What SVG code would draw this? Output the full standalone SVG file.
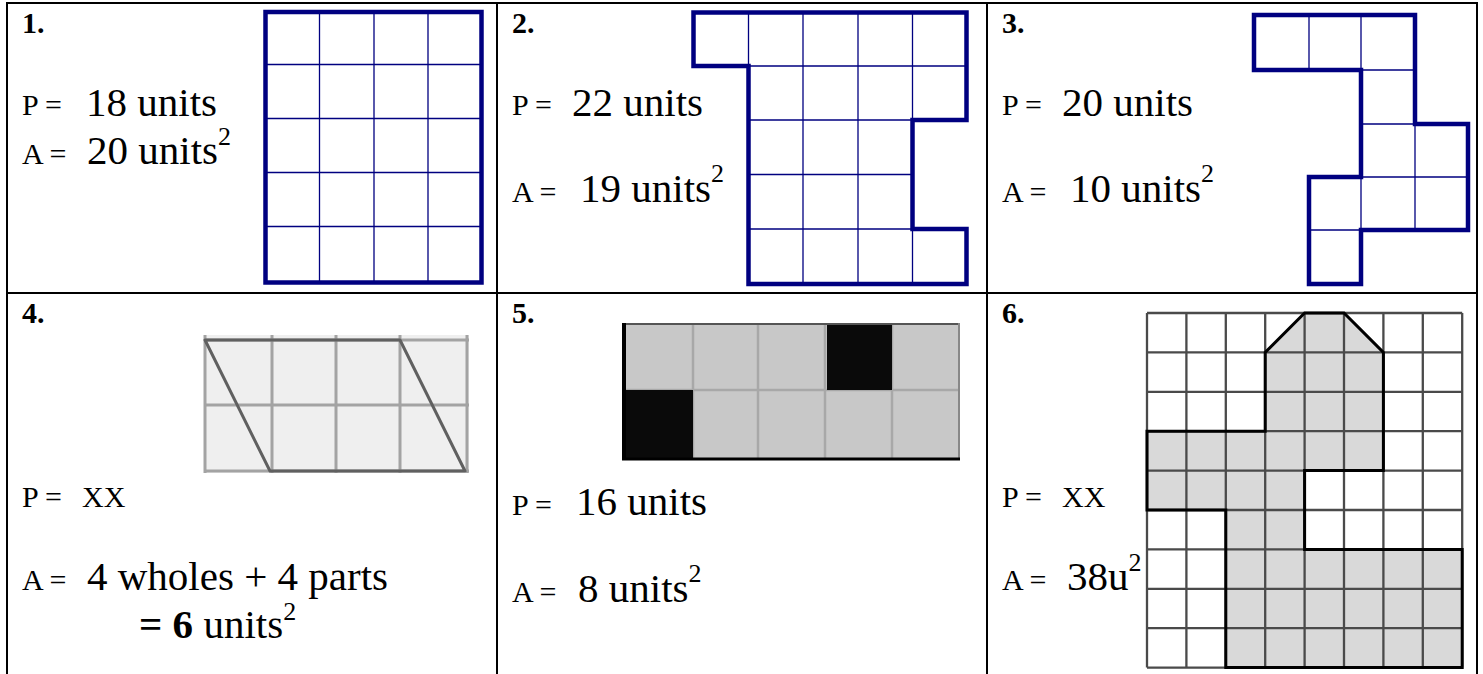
<svg xmlns="http://www.w3.org/2000/svg" width="1483" height="674" viewBox="0 0 1483 674">
<style>
text{font-family:"Liberation Serif","Times New Roman",serif;fill:#000}
.num{font-size:30px;font-weight:bold}
.lab{font-size:30px}
.big{font-size:41px}
.sup{font-size:26px}
.tbl{stroke:#000;stroke-width:2;fill:none}
.nthin{stroke:#000080;stroke-width:1.3;fill:none}
.nthick{stroke:#000080;stroke-width:4.5;fill:none;stroke-linejoin:miter;stroke-linecap:square}
</style>
<rect width="1483" height="674" fill="#fff"/>
<g id="table">
<line class="tbl" x1="7" y1="3" x2="1477" y2="3"/>
<line class="tbl" x1="7" y1="293" x2="1477" y2="293"/>
<line class="tbl" x1="7" y1="2" x2="7" y2="674"/>
<line class="tbl" x1="497" y1="2" x2="497" y2="674"/>
<line class="tbl" x1="987" y1="2" x2="987" y2="674"/>
<line class="tbl" x1="1477" y1="2" x2="1477" y2="674"/>
</g>
<g id="cell1">
<text class="num" x="22" y="33">1.</text>
<text class="lab" x="22" y="115">P =</text>
<text class="big" x="86" y="116">18 units</text>
<text class="lab" x="22" y="164">A =</text>
<text class="big" x="87" y="164">20 units<tspan class="sup" dy="-19">2</tspan></text>
<g id="shape1">
<path class="nthin" d="M319.5,12V282.5M374,12V282.5M428,12V282.5M265.5,64.5H481.5M265.5,118.5H481.5M265.5,172.5H481.5M265.5,226.5H481.5"/>
<rect class="nthick" x="265.5" y="12" width="216" height="270.5"/>
</g>
</g>
<g id="cell2">
<text class="num" x="512" y="33">2.</text>
<text class="lab" x="512" y="115">P =</text>
<text class="big" x="572" y="116">22 units</text>
<text class="lab" x="512" y="202">A =</text>
<text class="big" x="580" y="202">19 units<tspan class="sup" dy="-20">2</tspan></text>
<g id="shape2">
<path class="nthin" d="M748.5,12.5V66M803,12.5V284M858,12.5V284M912.5,12.5V120M912.5,229V284M748.5,66H966.5M748.5,120H912.5M748.5,174.5H912.5M748.5,229H912.5"/>
<path class="nthick" d="M693.5,12.5H966.5V120H912.5V229H966.5V284H748.5V66H693.5Z"/>
</g>
</g>
<g id="cell3">
<text class="num" x="1002" y="33">3.</text>
<text class="lab" x="1002" y="115">P =</text>
<text class="big" x="1062" y="116">20 units</text>
<text class="lab" x="1002" y="202">A =</text>
<text class="big" x="1070" y="202">10 units<tspan class="sup" dy="-20">2</tspan></text>
<g id="shape3">
<path class="nthin" d="M1309,15V70M1361,15V70M1361,177V230M1415,124V230M1361,70H1415M1361,124H1415M1361,177H1468M1309,230H1361"/>
<path class="nthick" d="M1254,15H1415V124H1468V230H1361V284H1309V177H1361V70H1254Z"/>
</g>
</g>
<g id="cell4">
<text class="num" x="22" y="323">4.</text>
<g id="shape4">
<rect x="204" y="335" width="265" height="138" fill="#efefef"/>
<path d="M205,335V473M272,335V473M336,335V473M400,335V473M467,335V473M204,340H469M204,405H469M204,471H469" stroke="#a3a3a3" stroke-width="3" fill="none"/>
<path d="M205,340H400L465,471H270Z" stroke="#606060" stroke-width="3" fill="none" stroke-linejoin="round"/>
</g>
<text class="lab" x="22" y="507">P =</text>
<text class="lab" x="82" y="507">XX</text>
<text class="lab" x="22" y="590">A =</text>
<text class="big" x="87" y="590">4 wholes + 4 parts</text>
<text class="big" x="139" y="638"><tspan font-weight="bold">= 6</tspan> units<tspan class="sup" dy="-18">2</tspan></text>
</g>
<g id="cell5">
<text class="num" x="512" y="323">5.</text>
<g id="shape5">
<rect x="622" y="323" width="338" height="137" fill="#c8c8c8"/>
<path d="M693,323V460M758,323V460M825,323V460M892,323V460M622,390H960" stroke="#a8a8a8" stroke-width="2.5" fill="none"/>
<rect x="622" y="390" width="71" height="70" fill="#0a0a0a"/>
<rect x="827" y="323" width="65" height="67" fill="#0a0a0a"/>
<line x1="622" y1="324" x2="960" y2="324" stroke="#555" stroke-width="2"/>
<line x1="959" y1="323" x2="959" y2="460" stroke="#888" stroke-width="2"/>
<line x1="624" y1="323" x2="624" y2="460" stroke="#000" stroke-width="4"/>
<line x1="622" y1="459" x2="960" y2="459" stroke="#000" stroke-width="3"/>
</g>
<text class="lab" x="512" y="515">P =</text>
<text class="big" x="576" y="515">16 units</text>
<text class="lab" x="512" y="602">A =</text>
<text class="big" x="578" y="602">8 units<tspan class="sup" dy="-20">2</tspan></text>
</g>
<g id="cell6">
<text class="num" x="1002" y="323">6.</text>
<g id="shape6">
<path d="M1147,431.2H1265.2V352.4L1304.6,313H1344L1383.4,352.4V470.6H1304.6V549.4H1462.2V667.6H1225.8V510H1147Z" fill="#d9d9d9"/>
<path d="M1147,313V667.6M1186.4,313V667.6M1225.8,313V667.6M1265.2,313V667.6M1304.6,313V667.6M1344,313V667.6M1383.4,313V667.6M1422.8,313V667.6M1462.2,313V667.6M1147,313H1462.2M1147,352.4H1462.2M1147,391.8H1462.2M1147,431.2H1462.2M1147,470.6H1462.2M1147,510H1462.2M1147,549.4H1462.2M1147,588.8H1462.2M1147,628.2H1462.2M1147,667.6H1462.2" stroke="#4a4a4a" stroke-width="2.3" fill="none"/>
<path d="M1147,431.2H1265.2V352.4L1304.6,313H1344L1383.4,352.4V470.6H1304.6V549.4H1462.2V667.6H1225.8V510H1147Z" fill="none" stroke="#000" stroke-width="3"/>
</g>
<text class="lab" x="1002" y="507">P =</text>
<text class="lab" x="1062" y="507">XX</text>
<text class="lab" x="1002" y="590">A =</text>
<text class="big" x="1067" y="590">38u<tspan class="sup" dy="-19">2</tspan></text>
</g>
</svg>
